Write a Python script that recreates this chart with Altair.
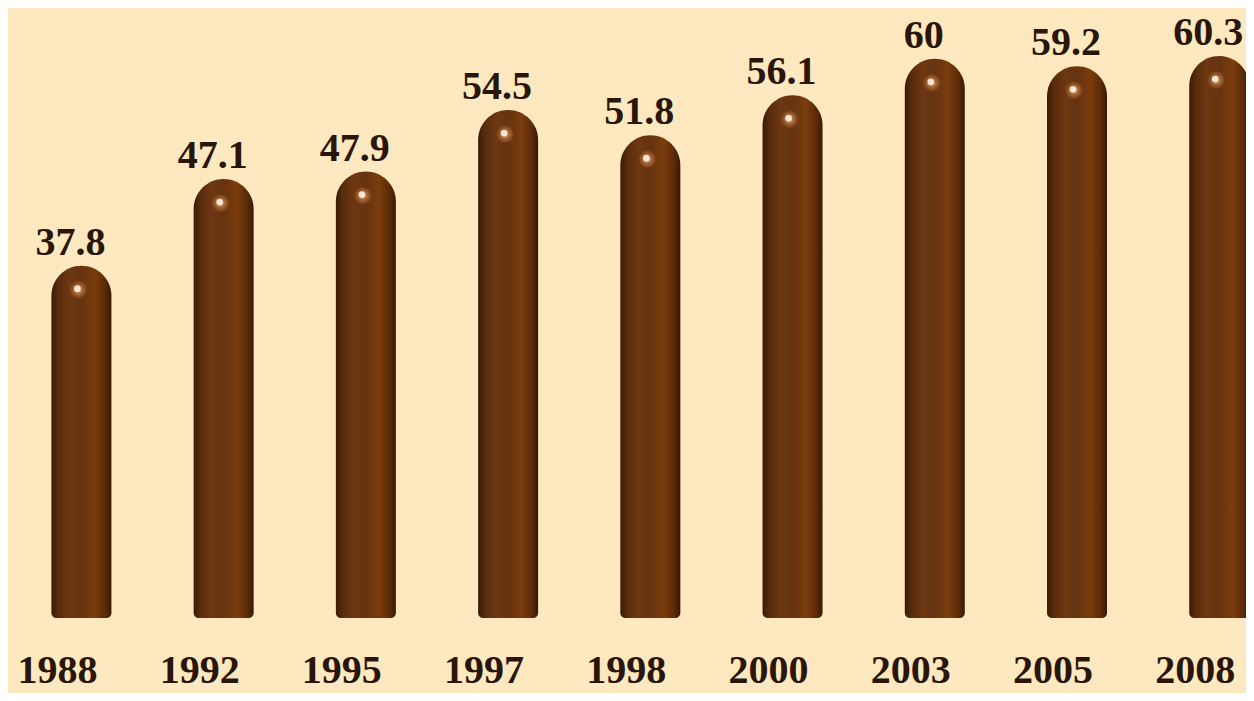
import altair as alt
import pandas as pd

years = ["1988", "1992", "1995", "1997", "1998", "2000", "2003", "2005", "2008"]
values = [37.8, 47.1, 47.9, 54.5, 51.8, 56.1, 60, 59.2, 60.3]
labels = ["37.8", "47.1", "47.9", "54.5", "51.8", "56.1", "60", "59.2", "60.3"]

df = pd.DataFrame({"idx": list(range(len(years))), "year": years,
                   "value": values, "label": labels})

xs = alt.Scale(domain=[-0.481, 8.153], nice=False, zero=False)
ys = alt.Scale(domain=[-8.05, 65.45], nice=False, zero=False)
X = alt.X("idx:Q", scale=xs, axis=None)
Y = alt.Y("value:Q", scale=ys, axis=None)

grad = alt.LinearGradient(
    gradient="linear", x1=0, y1=0, x2=1, y2=0,
    stops=[
        alt.GradientStop(offset=0, color="#3a1b06"),
        alt.GradientStop(offset=0.12, color="#592c0d"),
        alt.GradientStop(offset=0.3, color="#6d3712"),
        alt.GradientStop(offset=0.5, color="#653310"),
        alt.GradientStop(offset=0.72, color="#7b3d0c"),
        alt.GradientStop(offset=0.9, color="#5a2a08"),
        alt.GradientStop(offset=1, color="#371805"),
    ],
)

bars = alt.Chart(df).mark_bar(
    size=60, fill=grad, cornerRadiusTopLeft=30, cornerRadiusTopRight=30,
    cornerRadiusBottomLeft=5, cornerRadiusBottomRight=5
).encode(x=X, y=Y, y2=alt.datum(0))

glow = alt.Chart(df).mark_point(
    shape="circle", filled=True, size=330, opacity=0.9,
    fill={"gradient": "radial", "x1": 0.5, "y1": 0.5, "r1": 0,
          "x2": 0.5, "y2": 0.5, "r2": 0.5,
          "stops": [{"offset": 0, "color": "#f2c8a4"},
                    {"offset": 0.45, "color": "#b0703e"},
                    {"offset": 1, "color": "#703810"}]},
    strokeWidth=0
).encode(x=X, y=Y, xOffset=alt.value(-3), yOffset=alt.value(24))

spot = alt.Chart(df).mark_point(
    shape="circle", filled=True, size=45, opacity=0.9,
    fill="#fff0e0", strokeWidth=0
).encode(x=X, y=Y, xOffset=alt.value(-4), yOffset=alt.value(23))

vals = alt.Chart(df).mark_text(
    font="Liberation Serif", fontWeight="bold", fontSize=40,
    color="#2a1608", baseline="alphabetic", dy=-11, dx=-11
).encode(x=X, y=Y, text="label:N")

yrs = alt.Chart(df).mark_text(
    font="Liberation Serif", fontWeight="bold", fontSize=40,
    color="#2a1608", baseline="alphabetic", dx=-24
).encode(x=X, y=alt.value(675), text="year:N")

chart = alt.layer(bars, glow, spot, vals, yrs).properties(
    width=1238, height=685, autosize="none", padding=0,
    background="#fde8bf"
).configure_view(stroke=None)

chart.save("out.html", embed_options={"renderer": "svg", "actions": False})
